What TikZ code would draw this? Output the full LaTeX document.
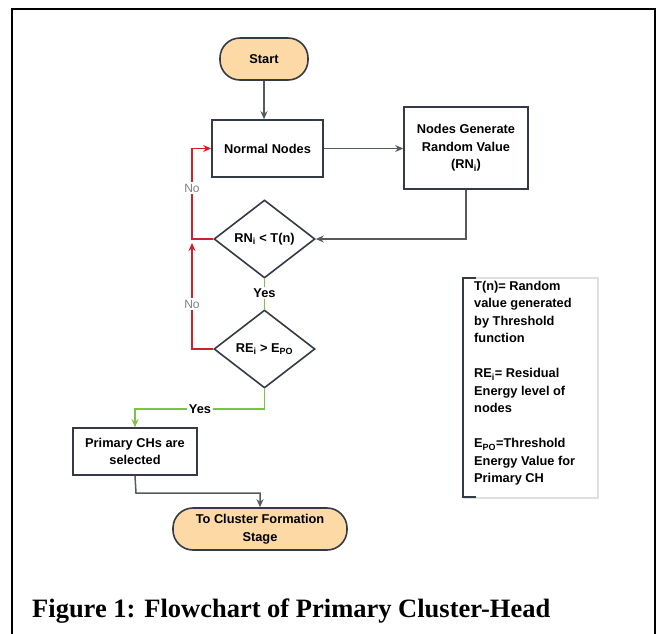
\documentclass[tikz,border=0pt]{standalone}
\usepackage{fontspec}
\setmainfont{Liberation Sans}
\newfontfamily\capfont{Liberation Serif}
\usetikzlibrary{shapes.geometric,arrows.meta,calc}
\definecolor{pill}{HTML}{FCD9A5}
\definecolor{edge}{HTML}{343B46}
\definecolor{conn}{HTML}{555A60}
\definecolor{nored}{HTML}{D0202E}
\definecolor{yesgreen}{HTML}{7CC243}
\tikzset{
  boxtxt/.style={font=\fontsize{12.8}{17.5}\selectfont\bfseries, align=center},
  procbox/.style={boxtxt, draw=edge, line width=1.6pt, fill=white, inner sep=0pt},
  termbox/.style={boxtxt, draw=edge, line width=1.6pt, fill=pill, rounded corners=20pt, inner sep=0pt},
  decbox/.style={boxtxt, diamond, draw=edge, line width=1.6pt, fill=white, inner sep=0pt, minimum width=101pt, minimum height=78pt},
  tip/.style={-{Stealth[length=8pt,width=7pt]}},
  connline/.style={draw=conn, line width=1.5pt, tip},
  redline/.style={draw=nored, line width=1.5pt},
  greenline/.style={draw=yesgreen, line width=1.5pt},
  nolabel/.style={font=\fontsize{12}{14}\selectfont, text=gray, fill=white, inner sep=1.5pt},
  yeslabel/.style={font=\fontsize{12.8}{14}\selectfont\bfseries, fill=white, inner sep=1.5pt},
}
\begin{document}
\begin{tikzpicture}[x=1pt,y=-1pt]
\useasboundingbox (0,0) rectangle (659,633);
\fill[white] (0,0) rectangle (659,633);
% outer frame
\draw[black, line width=2pt] (12,640) -- (12,9) -- (655,9) -- (655,640);

% nodes
\node[termbox, minimum width=88pt, minimum height=42pt] (start) at (264,59) {Start};
\node[procbox, minimum width=111pt, minimum height=57pt] (normal) at (267.5,148.5) {Normal Nodes};
\node[procbox, minimum width=124pt, minimum height=82pt] (gen) at (466,148) {Nodes Generate\\Random Value\\(RN\textsubscript{i})};
\node[decbox] (d1) at (264.5,239) {RN\textsubscript{i} < T(n)};
\node[decbox] (d2) at (264.5,349) {RE\textsubscript{i} > E\textsubscript{PO}};
\node[procbox, minimum width=124pt, minimum height=47pt] (prim) at (135,451.5) {Primary CHs are\\selected};
\node[termbox, minimum width=174pt, minimum height=42pt] (term) at (260,529) {To Cluster Formation\\Stage};

% junction coordinates
\coordinate (rj) at (192,239);
\coordinate (gy) at (264.5,409);
\coordinate (dk) at (136,493);

% connectors
\draw[connline] (start.south) -- (start.south |- normal.north);
\draw[connline] (normal.east) -- (normal.east -| gen.west);
\draw[connline] (gen.south) |- (d1.east);
\draw[redline, tip] (d1.west) -- (rj) |- (normal.west);
\draw[redline, tip] (d2.west) -| ($(rj)+(0,4)$);
\node[nolabel] (no1) at (192,188) {No};
\node[nolabel] (no2) at (192,304) {No};
\draw[greenline] (d1.south) -- (d2.north);
\node[yeslabel] (yes1) at (264.5,293) {Yes};
\draw[greenline, tip] (d2.south) -- (gy) -| (prim.north);
\node[yeslabel] (yes2) at (200,409) {Yes};
\draw[connline] (prim.south) -- (dk) -| (term.north);

% legend
\draw[gray!25, line width=1.8pt] (463,278) -- (598,278) -- (598,498) -- (463,498);
\draw[edge, line width=1.8pt] (476,278) -- (463,278) -- (463,497) -- (476,497);
\node[font=\fontsize{12.8}{17.5}\selectfont\bfseries, align=left, anchor=north west, inner sep=0pt] (legend) at (474,281)
{T(n)= Random\\value generated\\by Threshold\\function\\[17.5pt]RE\textsubscript{i}= Residual\\Energy level of\\nodes\\[17.5pt]E\textsubscript{PO}=Threshold\\Energy Value for\\Primary CH};

% caption
\node[font=\capfont\fontsize{26.5}{30}\selectfont\bfseries, anchor=base west, inner sep=0pt] (cap) at (32,617) {Figure 1: Flowchart of Primary Cluster-Head};
\end{tikzpicture}
\end{document}
